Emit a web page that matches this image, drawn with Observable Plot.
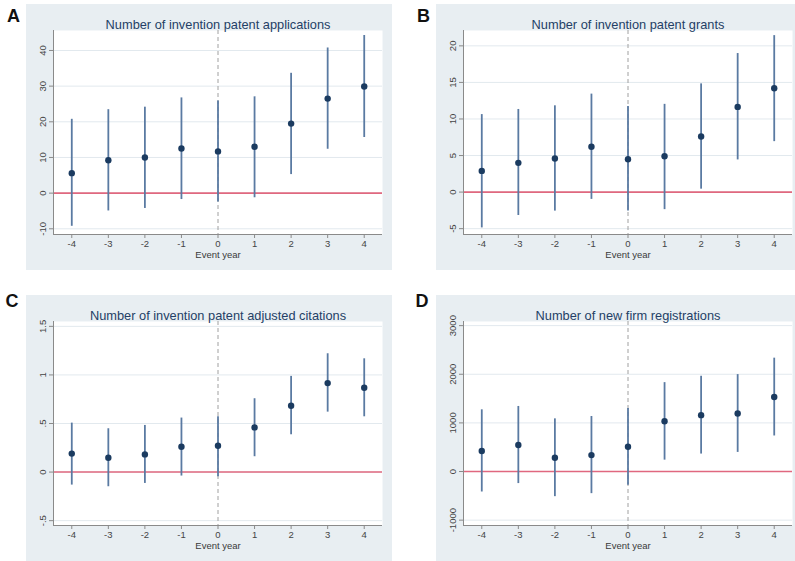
<!DOCTYPE html>
<html><head><meta charset="utf-8">
<script src="https://cdn.jsdelivr.net/npm/d3@7"></script>
<script src="https://cdn.jsdelivr.net/npm/@observablehq/plot@0.6"></script>
<style>
body{margin:0;background:#fff;font-family:"Liberation Sans",Arial,sans-serif;}
#root{position:relative;width:795px;height:561px;overflow:hidden;background:#fff;}
.panel{position:absolute;background:#e8eef2;}
.panel svg{display:block;}
.letter{position:absolute;font-weight:bold;font-size:18px;line-height:18px;color:#111;font-family:"Liberation Sans",Arial,sans-serif;}
</style></head><body><div id="root"></div>
<script>
// ---- data ----
const eventYears = [-4, -3, -2, -1, 0, 1, 2, 3, 4];

const panelLetters = ["A", "B", "C", "D"];
const panelTitles = [
  "Number of invention patent applications",
  "Number of invention patent grants",
  "Number of invention patent adjusted citations",
  "Number of new firm registrations"
];

const appCoef = [5.6, 9.2, 10.0, 12.5, 11.7, 13.0, 19.5, 26.5, 29.9];
const appLo   = [-9.3, -5.0, -4.3, -1.8, -2.5, -1.3, 5.2, 12.3, 15.6];
const appHi   = [20.7, 23.4, 24.1, 26.7, 25.8, 27.0, 33.6, 40.7, 44.2];
const appTicks = [-10, 0, 10, 20, 30, 40];

const grantCoef = [2.9, 4.0, 4.6, 6.2, 4.5, 4.9, 7.6, 11.65, 14.2];
const grantLo   = [-4.9, -3.2, -2.6, -1.0, -2.6, -2.4, 0.4, 4.4, 6.9];
const grantHi   = [10.6, 11.3, 11.8, 13.4, 11.7, 12.0, 14.8, 18.95, 21.4];
const grantTicks = [-5, 0, 5, 10, 15, 20];

const citeCoef = [0.19, 0.148, 0.182, 0.26, 0.271, 0.46, 0.683, 0.916, 0.868];
const citeLo   = [-0.134, -0.151, -0.117, -0.041, -0.048, 0.158, 0.384, 0.617, 0.569];
const citeHi   = [0.504, 0.446, 0.48, 0.556, 0.569, 0.755, 0.985, 1.218, 1.166];
const citeTicks = [-0.5, 0, 0.5, 1, 1.5];

const firmCoef = [421, 545, 283, 338, 510, 1034, 1159, 1193, 1531];
const firmLo   = [-421, -248, -517, -455, -283, 234, 359, 393, 731];
const firmHi   = [1269, 1338, 1083, 1131, 1297, 1828, 1959, 1993, 2331];
const firmTicks = [-1000, 0, 1000, 2000, 3000];

// ---- layout ----
const stataFmt = d => String(d).replace(/^(-?)0\./, "$1.");
const panels = [
  {coef: appCoef, lo: appLo, hi: appHi, ticks: appTicks, domain: [-11.6, 45.6], left: 26, top: 4, width: 366, ml: 27, mr: 10, fmt: stataFmt},
  {coef: grantCoef, lo: grantLo, hi: grantHi, ticks: grantTicks, domain: [-5.8, 22.1], left: 436, top: 4, width: 359, ml: 27, mr: 3, fmt: stataFmt},
  {coef: citeCoef, lo: citeLo, hi: citeHi, ticks: citeTicks, domain: [-0.55, 1.55], left: 26, top: 295, width: 366, ml: 27, mr: 10, fmt: stataFmt},
  {coef: firmCoef, lo: firmLo, hi: firmHi, ticks: firmTicks, domain: [-1110, 3085], left: 436, top: 295, width: 359, ml: 27, mr: 3, fmt: stataFmt}
];
const letterPos = [[7, 6.8], [417, 6.8], [5.5, 291.5], [415.5, 292]];

const root = document.getElementById("root");
const font = "'Liberation Sans', Arial, Helvetica, sans-serif";

panels.forEach((cfg, k) => {
  const data = eventYears.map((t, i) => ({t, b: cfg.coef[i], lo: cfg.lo[i], hi: cfg.hi[i]}));
  const div = document.createElement("div");
  div.className = "panel";
  div.style.left = cfg.left + "px";
  div.style.top = cfg.top + "px";
  div.style.width = cfg.width + "px";
  div.style.height = "266px";
  const chart = Plot.plot({
    width: cfg.width,
    height: 266,
    marginLeft: cfg.ml,
    marginRight: cfg.mr,
    marginTop: 26,
    marginBottom: 36,
    style: {fontFamily: font, background: "transparent", overflow: "visible"},
    x: {domain: [-4.5, 4.5]},
    y: {domain: cfg.domain},
    marks: [
      Plot.frame({fill: "white", stroke: null}),
      Plot.gridY(cfg.ticks, {stroke: "#e2e9ee", strokeOpacity: 1, strokeWidth: 1}),
      Plot.ruleY([0], {stroke: "#e0687f", strokeWidth: 1.6}),
      Plot.ruleX([0], {stroke: "#a0a0a0", strokeWidth: 1, strokeDasharray: "4,3"}),
      Plot.ruleX(data, {x: "t", y1: "lo", y2: "hi", stroke: "#5a7aa2", strokeWidth: 1.8}),
      Plot.dot(data, {x: "t", y: "b", r: 3.2, fill: "#1b3b60", stroke: null}),
      Plot.ruleX([-4.5], {stroke: "#8a8a8a", strokeWidth: 1}),
      Plot.ruleY([cfg.domain[0]], {stroke: "#8a8a8a", strokeWidth: 1}),
      Plot.axisY(cfg.ticks, {tickRotate: -90, tickSize: 4, tickPadding: 4, fontSize: 9.5, tickFormat: cfg.fmt, stroke: "#8a8a8a", fill: "#444", label: null}),
      Plot.axisX(eventYears, {tickSize: 4, tickPadding: 2, fontSize: 9.5, tickFormat: d => String(d), stroke: "#8a8a8a", fill: "#444", label: null}),
      Plot.text([panelTitles[k]], {text: d => d, frameAnchor: "top", dy: -11, fontSize: 12.8, fill: "#243f66"}),
      Plot.text(["Event year"], {text: d => d, frameAnchor: "bottom", dy: 23, fontSize: 9.5, fill: "#3a3a3a"})
    ]
  });
  div.appendChild(chart);
  root.appendChild(div);

  const lt = document.createElement("div");
  lt.className = "letter";
  lt.textContent = panelLetters[k];
  lt.style.left = letterPos[k][0] + "px";
  lt.style.top = letterPos[k][1] + "px";
  root.appendChild(lt);
});
</script>
</body></html>
